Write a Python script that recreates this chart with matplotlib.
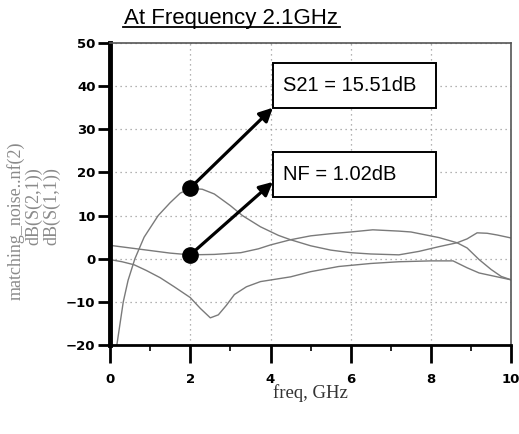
import matplotlib
matplotlib.use("Agg")
import matplotlib.pyplot as plt
from matplotlib.lines import Line2D
from matplotlib.patches import Rectangle
from matplotlib.ticker import MultipleLocator

# curves (freq in GHz, value in dB)
S21_FREQ = [0.17, 0.25, 0.33, 0.45, 0.62, 0.85, 1.2, 1.5, 1.75, 2.0, 2.3, 2.6,
            3.0, 3.3, 3.75, 4.2, 4.5, 5.0, 5.5, 6.0, 6.5, 7.2, 7.7, 8.2, 8.65,
            8.9, 9.15, 9.4, 9.65, 10.0]
S21_DB = [-20, -15, -10, -5, 0, 5, 10, 13, 15.2, 16.3, 16.1, 15.0,
          12.3, 10.0, 7.4, 5.4, 4.4, 3.0, 2.0, 1.4, 1.1, 0.9, 1.7, 2.8, 3.7,
          4.6, 6.0, 5.9, 5.5, 4.8]

NF_FREQ = [0.0, 0.5, 1.0, 1.5, 2.0, 2.6, 3.26, 3.7, 4.0, 4.5, 5.0, 5.5, 6.0,
           6.55, 7.2, 7.5, 8.2, 8.65, 8.9, 9.2, 9.5, 9.75, 10.0]
NF_DB = [3.1, 2.5, 1.9, 1.3, 0.9, 1.0, 1.4, 2.3, 3.2, 4.4, 5.3, 5.8, 6.2,
         6.7, 6.4, 6.2, 4.9, 3.7, 2.5, -0.2, -2.5, -4.1, -4.9]

S11_FREQ = [0.0, 0.3, 0.6, 0.9, 1.25, 1.6, 2.0, 2.25, 2.5, 2.7, 2.9, 3.1,
            3.4, 3.75, 4.5, 5.0, 5.7, 6.5, 7.2, 8.0, 8.55, 8.9, 9.2, 9.65, 10.0]
S11_DB = [-0.2, -0.7, -1.4, -2.7, -4.4, -6.5, -9.0, -11.5, -13.7, -13.0, -10.8, -8.3,
          -6.5, -5.3, -4.2, -3.0, -1.8, -1.1, -0.7, -0.5, -0.5, -2.1, -3.3, -4.2, -4.9]

MARKER_FREQ = 2.0
S21_MARK = 16.4
NF_MARK = 0.9

S21_TEXT = "S21 = 15.51dB"
NF_TEXT = "NF = 1.02dB"
TITLE = "At Frequency 2.1GHz"
YLABELS = ["matching_noise..nf(2)", "dB(S(2,1))", "dB(S(1,1))"]
XLABEL = "freq, GHz"

CURVE_COLOR = "#7a7a7a"

fig = plt.figure(figsize=(5.19, 4.34), dpi=100)
ax = fig.add_axes([0.212, 0.205, 0.773, 0.696])

ax.plot(S21_FREQ, S21_DB, color=CURVE_COLOR, lw=1.0)
ax.plot(NF_FREQ, NF_DB, color=CURVE_COLOR, lw=1.0)
ax.plot(S11_FREQ, S11_DB, color=CURVE_COLOR, lw=1.0)

ax.plot([MARKER_FREQ, MARKER_FREQ], [S21_MARK, NF_MARK], "o", color="black",
        markersize=11, linestyle="none", zorder=5)

ax.set_xlim(0, 10)
ax.set_ylim(-20, 50)
ax.xaxis.set_major_locator(MultipleLocator(2))
ax.xaxis.set_minor_locator(MultipleLocator(1))
ax.yaxis.set_major_locator(MultipleLocator(10))

ax.grid(True, which="major", linestyle=(0, (1, 3)), color="#9a9a9a", lw=0.9)

ax.spines["left"].set_linewidth(3.5)
ax.spines["bottom"].set_linewidth(2.0)
ax.spines["top"].set_linewidth(1.2)
ax.spines["right"].set_linewidth(1.2)
ax.spines["top"].set_color("#555555")
ax.spines["right"].set_color("#555555")

ax.tick_params(axis="x", which="major", direction="out", length=13, width=2,
               pad=7, labelsize=9.5)
ax.tick_params(axis="x", which="minor", direction="out", length=4.5, width=1.2)
ax.tick_params(axis="y", which="major", direction="out", length=8.5, width=2,
               pad=2, labelsize=9.5)
for lab in ax.get_xticklabels() + ax.get_yticklabels():
    lab.set_fontweight("bold")
ax.yaxis.get_major_ticks()[-1].tick1line.set_visible(False)

# annotation boxes and arrows
boxes = [(S21_TEXT, 4.06, 35.0, 45.4, 35.0, S21_MARK),
         (NF_TEXT, 4.06, 14.4, 24.8, 17.8, NF_MARK)]
for text, x0, y0, y1, tip_y, mark_y in boxes:
    ax.add_patch(Rectangle((x0, y0), 8.13 - x0, y1 - y0, fill=True,
                           facecolor="white", edgecolor="black", lw=1.4, zorder=6))
    ax.text(x0 + 0.25, (y0 + y1) / 2, text, fontsize=14.5,
            family="Liberation Sans", va="center", ha="left", zorder=7)
    ax.annotate("", xy=(x0, tip_y), xytext=(MARKER_FREQ, mark_y),
                arrowprops=dict(arrowstyle="-|>", color="black", lw=2.3,
                                mutation_scale=20, shrinkA=0, shrinkB=0),
                zorder=6)

# title with underline
fig.text(0.445, 0.958, TITLE, fontsize=16, family="Liberation Sans",
         ha="center", va="center")
fig.add_artist(Line2D([123 / 519, 340 / 519], [1 - 27 / 434, 1 - 27 / 434],
                      color="black", lw=1.3))

# stacked y labels
for xpos, ytop, lab in zip([16, 34, 52], [142, 167, 167], YLABELS):
    fig.text(xpos / 519, 1 - ytop / 434, lab, rotation=90, fontsize=13,
             family="Liberation Serif", color="#8a8a8a", ha="center", va="top")

fig.text(310 / 519, 1 - 393 / 434, XLABEL, fontsize=13.5,
         family="Liberation Serif", color="#333333", ha="center", va="center")

fig.savefig("out.png", dpi=100)
